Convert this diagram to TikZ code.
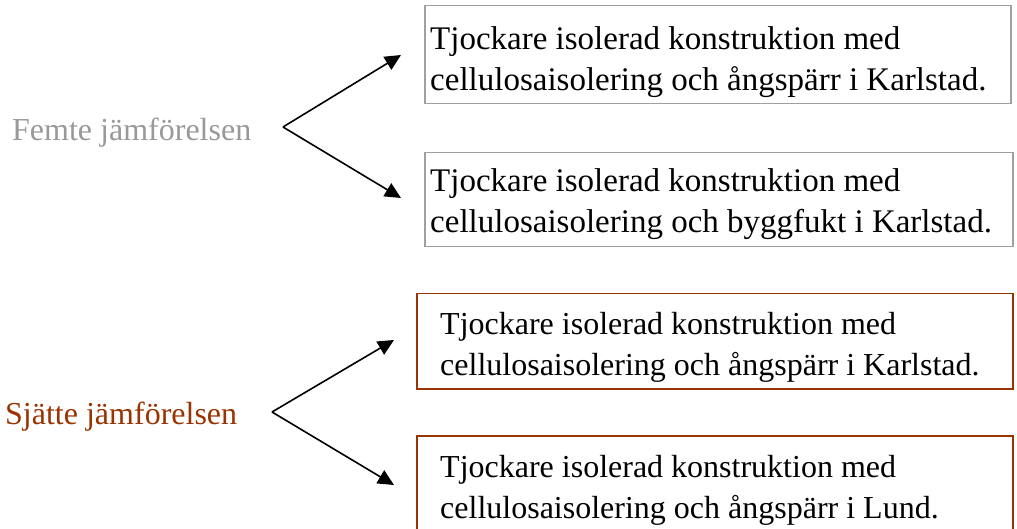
\documentclass[tikz,border=0pt]{standalone}
\usepackage{fontspec}
\setmainfont{Liberation Serif}
\usetikzlibrary{arrows.meta}
\definecolor{grayline}{HTML}{A0A0A0}
\definecolor{graytext}{HTML}{999999}
\definecolor{rust}{HTML}{993300}
\tikzset{
  box/.style={draw, line width=1.5pt, inner sep=0pt, anchor=north west},
  boxtext/.style={anchor=north west, inner sep=0pt, align=left, text=black,
    font=\fontsize{33}{41}\selectfont},
  boxtextsmall/.style={boxtext, font=\fontsize{32}{41}\selectfont},
  cmp/.style={anchor=west, inner sep=0pt, font=\fontsize{32}{38}\selectfont},
  arr/.style={line width=1.6pt, -{Triangle[length=16pt,width=15pt]}},
}
\begin{document}
\begin{tikzpicture}[x=1pt,y=-1pt]
\useasboundingbox (0,0) rectangle (1017,529);
% boxes
\node[box, draw=grayline, minimum width=586pt, minimum height=98pt] (b1) at (424,5) {};
\node[box, draw=grayline, minimum width=588pt, minimum height=94pt] (b2) at (424,152) {};
\node[box, draw=rust, minimum width=596pt, minimum height=95pt] (b3) at (416,293) {};
\node[box, draw=rust, minimum width=596pt, minimum height=94pt] (b4) at (416,435) {};
% texts
\node[boxtext] (t1) at (430,26) {Tjockare isolerad konstruktion med\\cellulosaisolering och ångspärr i Karlstad.};
\node[boxtext] (t2) at (430,168) {Tjockare isolerad konstruktion med\\cellulosaisolering och byggfukt i Karlstad.};
\node[boxtextsmall] (t3) at (440,312) {Tjockare isolerad konstruktion med\\cellulosaisolering och ångspärr i Karlstad.};
\node[boxtextsmall] (t4) at (440,455) {Tjockare isolerad konstruktion med\\cellulosaisolering och ångspärr i Lund.};
% comparison labels
\node[cmp, text=graytext] (f) at (12,133) {Femte jämförelsen};
\node[cmp, text=rust] (s) at (5,417) {Sjätte jämförelsen};
% arrows
\coordinate (fv) at (283,127);
\coordinate (fu) at (401,55);
\coordinate (fd) at (401,198);
\coordinate (sv) at (272,412);
\coordinate (su) at (394,340);
\coordinate (sd) at (394,485);
\draw[arr] (fv) -- (fu);
\draw[arr] (fv) -- (fd);
\draw[arr] (sv) -- (su);
\draw[arr] (sv) -- (sd);
\end{tikzpicture}
\end{document}
